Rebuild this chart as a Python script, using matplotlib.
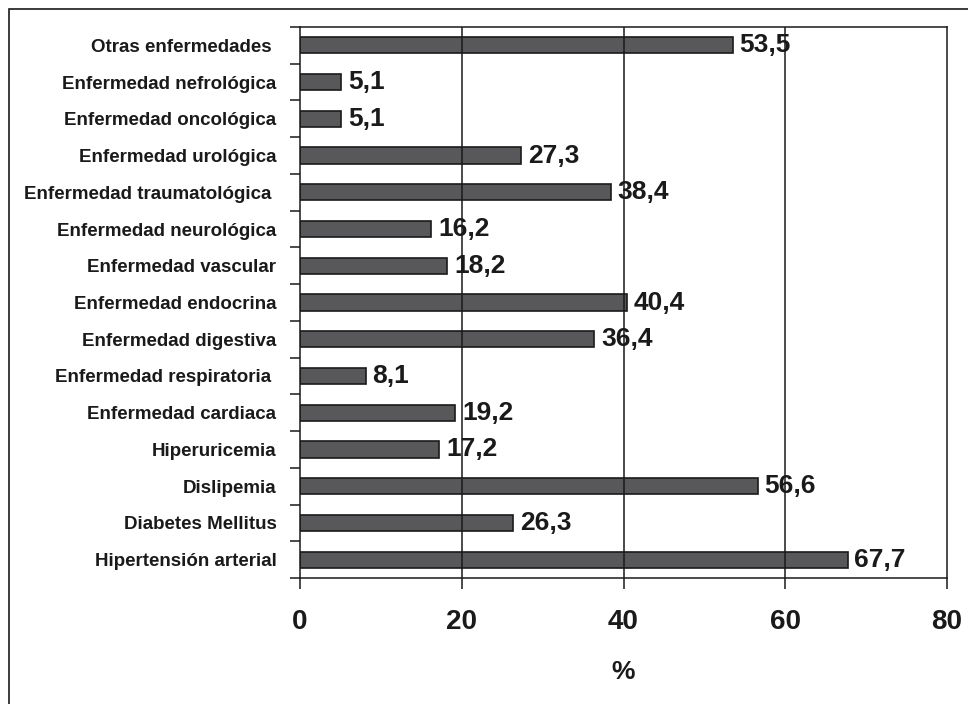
import matplotlib
matplotlib.use("Agg")
import matplotlib.pyplot as plt
from matplotlib.patches import Rectangle
import numpy as np

categories = [
    "Hipertensión arterial", "Diabetes Mellitus", "Dislipemia", "Hiperuricemia",
    "Enfermedad cardiaca", "Enfermedad respiratoria ", "Enfermedad digestiva",
    "Enfermedad endocrina", "Enfermedad vascular", "Enfermedad neurológica",
    "Enfermedad traumatológica ", "Enfermedad urológica", "Enfermedad oncológica",
    "Enfermedad nefrológica", "Otras enfermedades ",
]
values = [67.7, 26.3, 56.6, 17.2, 19.2, 8.1, 36.4, 40.4, 18.2, 16.2, 38.4, 27.3, 5.1, 5.1, 53.5]
value_labels = ["67,7", "26,3", "56,6", "17,2", "19,2", "8,1", "36,4", "40,4", "18,2",
                "16,2", "38,4", "27,3", "5,1", "5,1", "53,5"]
xticks = [0, 20, 40, 60, 80]

plt.rcParams['font.family'] = ['Liberation Sans', 'DejaVu Sans']
plt.rcParams['font.weight'] = 'bold'

fig = plt.figure(figsize=(9.68, 7.04), dpi=100)
ax = fig.add_axes([300/968, 1-578/704, 647/968, 551/704])

y = np.arange(len(categories))
ax.barh(y, values, height=0.44, color="#58585a", edgecolor="#1a1a1a", linewidth=1.2, zorder=2)
for yi, v, lab in zip(y, values, value_labels):
    ax.annotate(lab, (v, yi), xytext=(5, 0), textcoords="offset points",
                ha="left", va="center", fontsize=19, fontweight="bold", color="#1a1a1a", zorder=1)

ax.set_xlim(0, 80)
ax.set_ylim(-0.5, len(categories) - 0.5)
ax.set_xticks(xticks)
ax.set_xticklabels([str(t) for t in xticks], fontsize=20, fontweight="bold", color="#1a1a1a")
for t in xticks[1:-1]:
    ax.axvline(t, color="#1a1a1a", linewidth=1.1, zorder=3)

ax.set_yticks(y)
ax.set_yticklabels(categories, fontsize=13.5, fontweight="bold", color="#1a1a1a")
ax.set_yticks(np.arange(-0.5, len(categories) + 0.5, 1), minor=True)
ax.tick_params(axis="y", which="major", length=0, pad=17)
ax.tick_params(axis="y", which="minor", length=7, width=1.1, direction="out", color="#1a1a1a")
ax.tick_params(axis="x", length=8, width=1.1, direction="out", pad=14, color="#1a1a1a")

for s in ax.spines.values():
    s.set_linewidth(1.1)
    s.set_color("#1a1a1a")

ax.set_xlabel("%", fontsize=19, fontweight="bold", color="#1a1a1a", labelpad=18)

fig.patches.append(Rectangle((9/968, -0.1), 1.2, 1.1 - 9/704, transform=fig.transFigure,
                             fill=False, edgecolor="#1a1a1a", linewidth=1.2))

fig.savefig("out.png", dpi=100)
